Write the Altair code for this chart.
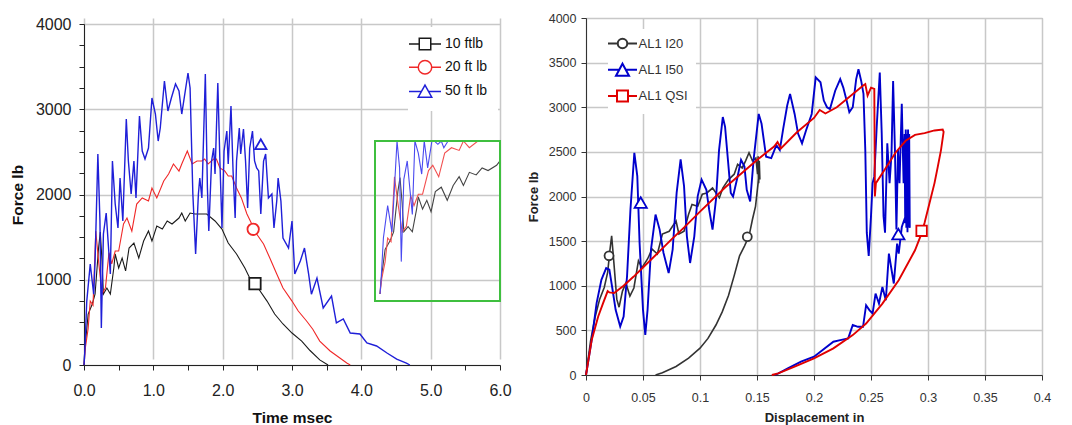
import altair as alt
import pandas as pd

FONT = "Liberation Sans"

# ---------------- Left panel: Force vs Time ----------------
L_NAMES = ["10 ftlb", "20 ft lb", "50 ft lb"]
L_COLORS = ["#1a1a1a", "#f02828", "#1f1fd8"]

black_10 = [(0.0, 0), (0.01, 164), (0.06, 598), (0.12, 716), (0.16, 833), (0.21, 1372), (0.235, 1560),
            (0.26, 1220), (0.28, 833), (0.33, 903), (0.38, 833), (0.43, 1138), (0.45, 1302), (0.50, 1138),
            (0.55, 1255), (0.60, 1103), (0.65, 1372), (0.72, 1431), (0.79, 1255), (0.86, 1454), (0.93, 1572),
            (0.98, 1454), (1.05, 1630), (1.13, 1595), (1.20, 1689), (1.27, 1654), (1.37, 1724), (1.41, 1783),
            (1.46, 1689), (1.53, 1783), (1.60, 1771), (1.77, 1771), (1.89, 1689), (1.99, 1595), (2.08, 1431),
            (2.20, 1302), (2.32, 1138), (2.39, 1020), (2.51, 903), (2.64, 750), (2.75, 598), (2.87, 481),
            (3.00, 375), (3.14, 281), (3.26, 170), (3.40, 60), (3.52, 0)]

red_20 = [(0.0, 0), (0.02, 203), (0.06, 430), (0.09, 750), (0.13, 700), (0.17, 1570), (0.21, 1220),
          (0.26, 830), (0.31, 907), (0.36, 1317), (0.40, 1185), (0.45, 1337), (0.50, 1337), (0.57, 1654),
          (0.62, 1724), (0.69, 1570), (0.76, 1888), (0.84, 1960), (0.93, 1924), (0.98, 2076), (1.05, 1960),
          (1.15, 2158), (1.22, 2240), (1.29, 2358), (1.37, 2275), (1.41, 2358), (1.49, 2510), (1.56, 2358),
          (1.63, 2393), (1.70, 2393), (1.74, 2416), (1.79, 2358), (1.87, 2416), (1.91, 2416), (1.96, 2311),
          (2.03, 2276), (2.08, 2217), (2.13, 2217), (2.20, 2076), (2.27, 1960), (2.35, 1771), (2.42, 1654),
          (2.49, 1537), (2.59, 1419), (2.68, 1255), (2.78, 1067), (2.87, 903), (3.00, 750), (3.09, 633),
          (3.21, 516), (3.30, 420), (3.40, 281), (3.55, 164), (3.69, 82), (3.79, 23), (3.84, 0)]

blue_50 = [(0.0, 0), (0.01, 130), (0.04, 750), (0.09, 1185), (0.14, 830), (0.16, 1220), (0.20, 2475),
           (0.23, 1690), (0.25, 434), (0.28, 1537), (0.32, 1783), (0.36, 1302), (0.38, 1067), (0.41, 2393),
           (0.45, 1888), (0.49, 1607), (0.52, 2193), (0.56, 1690), (0.61, 2885), (0.64, 2393), (0.68, 2006),
           (0.72, 2393), (0.75, 1960), (0.80, 2920), (0.84, 2510), (0.88, 2416), (0.93, 2545), (0.98, 3132),
           (1.03, 2944), (1.07, 2627), (1.10, 2780), (1.16, 3331), (1.21, 2979), (1.26, 3132), (1.32, 3296),
           (1.37, 3214), (1.41, 2944), (1.50, 3425), (1.53, 3250), (1.57, 2006), (1.61, 1302), (1.65, 2006),
           (1.67, 2193), (1.70, 1960), (1.75, 3413), (1.78, 2076), (1.80, 1572), (1.84, 2393), (1.87, 2545),
           (1.89, 2240), (1.93, 3308), (1.96, 2393), (1.99, 1607), (2.02, 2510), (2.06, 2745), (2.08, 2358),
           (2.12, 3038), (2.15, 2276), (2.18, 1724), (2.20, 2393), (2.24, 2780), (2.26, 2475), (2.30, 2768),
           (2.33, 2393), (2.36, 1842), (2.39, 2545), (2.43, 2745), (2.46, 2393), (2.49, 2311), (2.52, 2276),
           (2.55, 1771), (2.59, 2393), (2.62, 2475), (2.66, 1960), (2.71, 2006), (2.74, 1607), (2.78, 1924),
           (2.80, 2193), (2.84, 1924), (2.87, 1490), (2.95, 1372), (3.00, 1689), (3.04, 1067), (3.12, 1220),
           (3.18, 1372), (3.24, 1067), (3.28, 830), (3.36, 1020), (3.45, 669), (3.57, 809), (3.64, 493),
           (3.74, 540), (3.84, 375), (3.98, 364), (4.08, 258), (4.22, 223), (4.37, 141), (4.51, 70),
           (4.65, 23), (4.70, 0)]

L_MARK_T = [2.466, 2.44, 2.55]
L_MARK_F = [954, 1592, 2590]
L_MARK_SHAPES = ["square", "circle", "triangle-up"]

L_X_TICKS = [0.0, 0.5, 1.0, 1.5, 2.0, 2.5, 3.0, 3.5, 4.0, 4.5, 5.0, 5.5, 6.0]
L_Y_TICKS = [0, 250, 500, 750, 1000, 1250, 1500, 1750, 2000, 2250, 2500, 2750, 3000, 3250, 3500, 3750, 4000]
INSET_T_MAX = 1.41
INSET_F_MAX = 2050

# ---------------- Right panel: Force vs Displacement ----------------
R_NAMES = ["AL1 I20", "AL1 I50", "AL1 QSI"]
R_COLORS = ["#333333", "#0000cc", "#e00000"]

black_i20 = [(0.0, 0), (0.004, 380), (0.008, 650), (0.012, 850), (0.016, 980), (0.019, 1150), (0.021, 1400),
             (0.0225, 1560), (0.0245, 1250), (0.027, 850), (0.029, 760), (0.032, 940), (0.035, 1030),
             (0.0385, 885), (0.042, 975), (0.046, 1280), (0.049, 1200), (0.054, 1300), (0.058, 1410),
             (0.0626, 1355), (0.067, 1580), (0.073, 1610), (0.079, 1725), (0.0815, 1580), (0.086, 1610),
             (0.090, 1800), (0.093, 1910), (0.098, 1890), (0.102, 2025), (0.106, 2040), (0.111, 2095),
             (0.117, 1985), (0.120, 2095), (0.125, 2190), (0.130, 2250), (0.133, 2360), (0.137, 2320),
             (0.140, 2400), (0.143, 2490), (0.146, 2400), (0.149, 2430), (0.1505, 2250), (0.151, 2450),
             (0.1515, 2150), (0.152, 2400), (0.1525, 2200), (0.1514, 2200), (0.1487, 1890), (0.146, 1742),
             (0.143, 1557), (0.139, 1445), (0.1347, 1335), (0.130, 1113), (0.125, 890), (0.1195, 707),
             (0.114, 560), (0.107, 410), (0.100, 300), (0.090, 190), (0.079, 95), (0.067, 25), (0.061, 0)]

blue_i50 = [(0.0, 0), (0.005, 393), (0.0093, 805), (0.0135, 1067), (0.0177, 1198), (0.0205, 1180),
            (0.0233, 955), (0.026, 730), (0.030, 543), (0.033, 655), (0.036, 1105), (0.039, 1854),
            (0.0424, 2490), (0.045, 2228), (0.047, 1480), (0.050, 730), (0.052, 450), (0.054, 730),
            (0.057, 1404), (0.061, 1798), (0.0646, 1629), (0.068, 1367), (0.0725, 1142), (0.076, 1404),
            (0.0795, 2041), (0.083, 2415), (0.086, 2116), (0.0885, 1554), (0.0913, 1255), (0.095, 1554),
            (0.098, 2004), (0.1014, 2190), (0.1056, 2075), (0.108, 1855), (0.111, 1630), (0.114, 1965),
            (0.1167, 2520), (0.120, 2890), (0.122, 2780), (0.1245, 2410), (0.127, 2040), (0.129, 2000),
            (0.133, 2225), (0.136, 2410), (0.139, 2335), (0.141, 2075), (0.144, 1945), (0.147, 2410),
            (0.1515, 2925), (0.154, 2815), (0.158, 2445), (0.1625, 2430), (0.167, 2575), (0.170, 2520),
            (0.173, 2760), (0.1765, 3020), (0.179, 3150), (0.183, 2925), (0.186, 2705), (0.1895, 2595),
            (0.193, 2740), (0.198, 2925), (0.2015, 3335), (0.2057, 3280), (0.2086, 3075), (0.2114, 3000),
            (0.214, 2980), (0.2186, 3185), (0.223, 3315), (0.2257, 3220), (0.2286, 3075), (0.231, 2945),
            (0.234, 3000), (0.237, 3315), (0.239, 3425), (0.2414, 3295), (0.2434, 3150), (0.245, 2520),
            (0.2463, 1595), (0.248, 1335), (0.250, 1780), (0.2514, 2150), (0.2529, 2225), (0.255, 2780),
            (0.2577, 3390), (0.2594, 2705), (0.261, 1780), (0.2623, 1595), (0.2643, 2595), (0.2663, 2150),
            (0.268, 2480), (0.2694, 3295), (0.271, 2520), (0.2723, 1630), (0.2737, 2520), (0.275, 2150),
            (0.277, 3040), (0.2786, 2150), (0.2795, 2700), (0.280, 1700), (0.2805, 2750), (0.281, 1650),
            (0.2815, 2700), (0.282, 1600), (0.2825, 2750), (0.283, 1700), (0.2835, 2700), (0.284, 1650),
            (0.280, 1770), (0.277, 1658), (0.2743, 1360), (0.2729, 1472), (0.270, 1025), (0.2657, 1360),
            (0.263, 838), (0.260, 987), (0.257, 800), (0.254, 913), (0.2514, 690), (0.2486, 727),
            (0.2457, 782), (0.243, 540), (0.2386, 540), (0.234, 560), (0.230, 410), (0.223, 390),
            (0.217, 373), (0.200, 205), (0.1886, 150), (0.177, 75), (0.166, 0)]

red_qsi = [(0.0, 0), (0.005, 393), (0.0107, 655), (0.015, 805), (0.019, 940), (0.0205, 925), (0.0247, 918),
           (0.033, 1000), (0.0416, 1100), (0.050, 1205), (0.064, 1380), (0.075, 1520), (0.0866, 1660),
           (0.100, 1830), (0.122, 2100), (0.150, 2410), (0.165, 2560), (0.168, 2610), (0.171, 2540),
           (0.185, 2720), (0.200, 2880), (0.205, 2970), (0.210, 2930), (0.220, 3000), (0.2429, 3240),
           (0.245, 3260), (0.247, 3130), (0.250, 3220), (0.2529, 3205), (0.2534, 2000), (0.2543, 2150),
           (0.2614, 2288), (0.2716, 2493), (0.2804, 2624), (0.2886, 2690), (0.297, 2710), (0.3057, 2740),
           (0.3129, 2750), (0.3137, 2725), (0.3114, 2520), (0.3086, 2335), (0.3057, 2150), (0.3014, 1930),
           (0.297, 1705), (0.2943, 1583), (0.2886, 1397), (0.2743, 1062), (0.260, 800), (0.2457, 577),
           (0.234, 447), (0.217, 298), (0.200, 186), (0.183, 93), (0.1686, 19), (0.163, 0)]

R_MARK_SERIES = ["AL1 I20", "AL1 I20", "AL1 I50", "AL1 I50", "AL1 QSI"]
R_MARK_D = [0.0202, 0.1415, 0.048, 0.274, 0.2944]
R_MARK_F = [1336, 1549, 1933, 1579, 1616]

R_X_TICKS = [0, 0.05, 0.1, 0.15, 0.2, 0.25, 0.3, 0.35, 0.4]
R_Y_TICKS = [0, 500, 1000, 1500, 2000, 2500, 3000, 3500, 4000]


def frame(pairs, name):
    return pd.DataFrame({"x": [p[0] for p in pairs], "y": [p[1] for p in pairs],
                         "i": list(range(len(pairs))), "series": name})


# legend symbols: line + marker (custom paths)
L_PATHS = [
    "M-3.2,0H-1.15M1.15,0H3.2M-1.15,-1.15H1.15V1.15H-1.15Z",
    "M-3.2,0H-1.35M1.35,0H3.2M-1.35,0A1.35,1.35,0,1,0,1.35,0A1.35,1.35,0,1,0,-1.35,0Z",
    "M-3.2,0H-0.7M0.7,0H3.2M0,-1.25L1.35,1.15H-1.35Z",
]
R_PATHS = [
    "M-2.9,0H-0.95M0.95,0H2.9M-0.95,0A0.95,0.95,0,1,0,0.95,0A0.95,0.95,0,1,0,-0.95,0Z",
    "M-2.9,0H-0.65M0.65,0H2.9M0,-1.2L1.3,1.2H-1.3Z",
    "M-2.9,0H-1.1M1.1,0H2.9M-1.1,-1.1H1.1V1.1H-1.1Z",
]

# ---------------- Left chart ----------------
L_H = 347          # view height; 4000 sits 6px below the view top
L_TOP = 6
axL_x = alt.Axis(values=L_X_TICKS, title="Time msec",
                 labelExpr="datum.value % 1 === 0 ? format(datum.value, '.1f') : ''",
                 gridOpacity={"condition": {"test": "datum.value % 1 === 0", "value": 1}, "value": 0},
                 labelFontSize=16, labelFont=FONT, labelColor="#222", labelPadding=12,
                 labelFlush=False, labelOverlap=False, tickSize=5, tickColor="#222",
                 domainColor="#222", gridColor="#c8c8c8", gridWidth=1.5,
                 titleFont=FONT, titleFontSize=15.5, titleFontWeight="bold", titleColor="#111",
                 titlePadding=12)
axL_y = alt.Axis(values=L_Y_TICKS, title="Force lb",
                 labelExpr="datum.value % 1000 === 0 ? format(datum.value, 'd') : ''",
                 gridOpacity={"condition": {"test": "datum.value % 1000 === 0", "value": 1}, "value": 0},
                 labelFontSize=16, labelFont=FONT, labelColor="#222", labelPadding=8,
                 labelOverlap=False, tickSize=5, tickColor="#222", domainColor="#222",
                 gridColor="#c8c8c8", gridWidth=1.5,
                 titleFont=FONT, titleFontSize=15.5, titleFontWeight="bold", titleColor="#111",
                 titlePadding=10)

xL = alt.X("x:Q", scale=alt.Scale(domain=[0, 6], nice=False), axis=axL_x)
yL = alt.Y("y:Q", scale=alt.Scale(domain=[0, 4000], range=[L_H, L_TOP], nice=False), axis=axL_y)

left_series = [(black_10, L_NAMES[0], L_COLORS[0], 1.1),
               (red_20, L_NAMES[1], L_COLORS[1], 1.1),
               (blue_50, L_NAMES[2], L_COLORS[2], 1.4)]

left_lines = [alt.Chart(frame(p, n)).mark_line(color=c, strokeWidth=w).encode(x=xL, y=yL, order="i:Q")
              for p, n, c, w in left_series]

lmk = pd.DataFrame({"x": L_MARK_T, "y": L_MARK_F, "series": L_NAMES})
left_marks = [alt.Chart(lmk.iloc[[k]]).mark_point(shape=L_MARK_SHAPES[k], fill="white", filled=False,
                                                   stroke=L_COLORS[k], strokeWidth=1.8, size=130, opacity=1)
              .encode(x=xL, y=yL) for k in range(3)]

leg_left = alt.Legend(orient="none", legendX=324, legendY=L_TOP + 3, padding=10, fillColor="white",
                      symbolSize=100, symbolStrokeWidth=1.5, symbolOpacity=1, symbolFillColor="white",
                      labelFont=FONT, labelFontSize=14, labelColor="#111", labelOffset=13, rowPadding=4.2)
left_carrier = alt.Chart(lmk).mark_point(opacity=0).encode(
    x=xL, y=yL,
    color=alt.Color("series:N", title=None, scale=alt.Scale(domain=L_NAMES, range=L_COLORS), legend=leg_left),
    shape=alt.Shape("series:N", title=None, scale=alt.Scale(domain=L_NAMES, range=L_PATHS), legend=leg_left),
)

main_left = alt.layer(*left_lines, *left_marks, left_carrier)

# inset (magnified early part)
xI = alt.X("x:Q", scale=alt.Scale(domain=[0, INSET_T_MAX], range=[296, 416], nice=False), axis=None)
yI = alt.Y("y:Q", scale=alt.Scale(domain=[0, INSET_F_MAX], range=[276, 123], nice=False, clamp=True), axis=None)
inset_cols = ["#444444", "#f25050", "#4a4af0"]
inset_lines = [alt.Chart(frame(p, n)).transform_filter(alt.datum.x <= INSET_T_MAX)
               .mark_line(color=inset_cols[k], strokeWidth=1.1).encode(x=xI, y=yI, order="i:Q")
               for k, (p, n, c, w) in enumerate(left_series)]
inset_box = alt.Chart(pd.DataFrame({"a": [0]})).mark_rect(fillOpacity=0, stroke="#3fbf3f", strokeWidth=2).encode(
    x=alt.value(291), x2=alt.value(416), y=alt.value(123), y2=alt.value(283))
inset = alt.layer(*inset_lines, inset_box)

left = alt.layer(main_left, inset).resolve_scale(x="independent", y="independent").properties(
    width=416, height=L_H, view=alt.ViewBackground(strokeOpacity=0))

# ---------------- Right chart ----------------
axR_x = alt.Axis(values=R_X_TICKS, title="Displacement in", format="~g",
                 labelFontSize=12.5, labelFont=FONT, labelColor="#333", labelPadding=11,
                 labelFlush=False, labelOverlap=False, tickSize=5, tickColor="#333", domainColor="#333",
                 gridColor="#c8c8c8", gridWidth=1.5,
                 titleFont=FONT, titleFontSize=13, titleFontWeight="bold", titleColor="#222", titlePadding=8)
axR_y = alt.Axis(values=R_Y_TICKS, title="Force lb", format="d",
                 labelFontSize=12.5, labelFont=FONT, labelColor="#333", labelPadding=5,
                 labelOverlap=False, tickSize=5, tickColor="#333", domainColor="#333",
                 gridColor="#c8c8c8", gridWidth=1.5,
                 titleFont=FONT, titleFontSize=13, titleFontWeight="bold", titleColor="#222", titlePadding=8)
xR = alt.X("x:Q", scale=alt.Scale(domain=[0, 0.4], nice=False), axis=axR_x)
yR = alt.Y("y:Q", scale=alt.Scale(domain=[0, 4000], nice=False), axis=axR_y)

right_series = [(black_i20, R_NAMES[0], R_COLORS[0], 1.6),
                (blue_i50, R_NAMES[1], R_COLORS[1], 1.9),
                (red_qsi, R_NAMES[2], R_COLORS[2], 1.9)]
right_lines = [alt.Chart(frame(p, n)).mark_line(color=c, strokeWidth=w).encode(x=xR, y=yR, order="i:Q")
               for p, n, c, w in right_series]

rmk = pd.DataFrame({"x": R_MARK_D, "y": R_MARK_F, "series": R_MARK_SERIES})
r_shape = {"AL1 I20": ("circle", 80), "AL1 I50": ("triangle-up", 150), "AL1 QSI": ("square", 110)}
right_marks = []
for k, n in enumerate(R_NAMES):
    shp, sz = r_shape[n]
    right_marks.append(alt.Chart(rmk[rmk.series == n]).mark_point(
        shape=shp, fill="white", filled=False, stroke=R_COLORS[k], strokeWidth=1.8, size=sz, opacity=1)
        .encode(x=xR, y=yR))

leg_right = alt.Legend(orient="none", legendX=22, legendY=11, padding=8, fillColor="white",
                       symbolSize=100, symbolStrokeWidth=2, symbolOpacity=1, symbolFillColor="white",
                       labelFont=FONT, labelFontSize=13, labelColor="#333", labelOffset=9.5, rowPadding=6.2)
right_carrier = alt.Chart(rmk).mark_point(opacity=0).encode(
    x=xR, y=yR,
    color=alt.Color("series:N", title=None, scale=alt.Scale(domain=R_NAMES, range=R_COLORS), legend=leg_right),
    shape=alt.Shape("series:N", title=None, scale=alt.Scale(domain=R_NAMES, range=R_PATHS), legend=leg_right),
)

right = alt.layer(*right_lines, *right_marks, right_carrier).properties(
    width=456, height=357, view=alt.ViewBackground(stroke="#a8a8a8", strokeWidth=1))

chart = alt.hconcat(left, right, spacing=14).resolve_scale(
    color="independent", shape="independent").resolve_legend(
    color="independent", shape="independent").properties(
    padding={"left": 2, "top": 3, "right": 5, "bottom": 5}
)

chart.save("out.html", embed_options={"renderer": "svg", "actions": False})
